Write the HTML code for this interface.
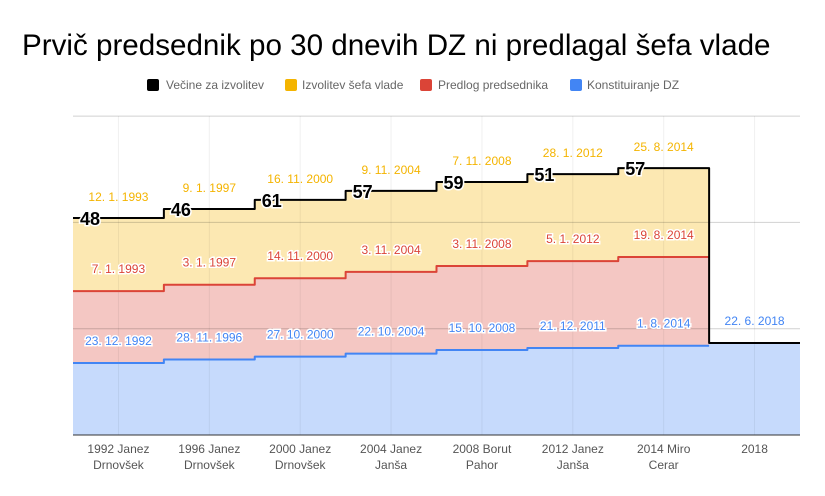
<!DOCTYPE html>
<html><head><meta charset="utf-8"><style>
body{margin:0;background:#fff;font-family:"Liberation Sans",sans-serif}
svg{display:block}
</style></head><body>
<svg id="c" width="825" height="496">
<text x="22" y="55" font-size="29.6" fill="#000">Prvič predsednik po 30 dnevih DZ ni predlagal šefa vlade</text>
<g font-size="12" fill="#666">
<g><rect x="147" y="79" width="12" height="12" rx="2" fill="#000"/><text x="166" y="89">Večine za izvolitev</text></g>
<g><rect x="285" y="79" width="12" height="12" rx="2" fill="#f4b400"/><text x="302" y="89">Izvolitev šefa vlade</text></g>
<g><rect x="420" y="79" width="12" height="12" rx="2" fill="#db4437"/><text x="438" y="89">Predlog predsednika</text></g>
<g><rect x="570" y="79" width="12" height="12" rx="2" fill="#4285f4"/><text x="587" y="89">Konstituiranje DZ</text></g>
</g>
<g id="plot"></g>
</svg>
<script>
const categories=[["1992 Janez","Drnovšek"],["1996 Janez","Drnovšek"],["2000 Janez","Drnovšek"],["2004 Janez","Janša"],["2008 Borut","Pahor"],["2012 Janez","Janša"],["2014 Miro","Cerar"],["2018",""]];
const blueVals=[67.7,71.0,73.7,76.5,80.0,81.8,84.0,86.5];
const redVals=[67.7,70.4,73.8,76.9,79.0,81.8,83.4,0];
const yellowVals=[68.7,71.2,73.7,76.2,79.0,81.8,83.7,0];
const majority=["48","46","61","57","59","51","57",""];
const yellowDates=["12. 1. 1993","9. 1. 1997","16. 11. 2000","9. 11. 2004","7. 11. 2008","28. 1. 2012","25. 8. 2014",""];
const redDates=["7. 1. 1993","3. 1. 1997","14. 11. 2000","3. 11. 2004","3. 11. 2008","5. 1. 2012","19. 8. 2014",""];
const blueDates=["23. 12. 1992","28. 11. 1996","27. 10. 2000","22. 10. 2004","15. 10. 2008","21. 12. 2011","1. 8. 2014","22. 6. 2018"];
const yTicks=[0,100,200,300];

const NS="http://www.w3.org/2000/svg";
const X0=73,X1=800,Y0=435,PX=1.063;
const n=categories.length,cw=(X1-X0)/n;
const xs=i=>X0+i*cw, xc=i=>X0+(i+0.5)*cw, y=v=>Y0-v*PX;
const g=document.getElementById('plot');
function mk(t,a,p){const e=document.createElementNS(NS,t);for(const k in a)e.setAttribute(k,a[k]);(p||g).appendChild(e);return e;}
const blueT=blueVals.map(v=>v), redT=blueVals.map((v,i)=>v+redVals[i]), totT=redT.map((v,i)=>v+yellowVals[i]);
function stepPts(top,cnt){let p=[];for(let i=0;i<cnt;i++){p.push([xs(i),y(top[i])],[xs(i+1),y(top[i])]);}return p;}
function area(top,bot,cnt,fill,name){const a=stepPts(top,cnt),b=stepPts(bot,cnt).reverse();
const e=mk('path',{d:'M'+a.concat(b).map(p=>p.join(',')).join('L')+'Z',fill:fill});

}
const zero=blueVals.map(()=>0);
area(totT,redT,7,'#fce8b2','area-izvolitev');
area(redT,blueT,7,'#f4c7c3','area-predlog');
area(blueT,zero,n,'#c6dafc','area-konstituiranje');
// grid over areas
yTicks.forEach(t=>{if(t===0)return;const l=mk('line',{x1:X0,x2:X1,y1:y(t),y2:y(t),stroke:'#000','stroke-opacity':0.18,'stroke-width':1});

});
categories.forEach((c,i)=>{const l=mk('line',{x1:xc(i),x2:xc(i),y1:116,y2:Y0,stroke:'#000','stroke-opacity':0.06});

});
function line(top,cnt,col,w,name){const p=stepPts(top,cnt);const e=mk('polyline',{points:p.map(q=>q.join(',')).join(' '),fill:'none',stroke:col,'stroke-width':w,'stroke-linejoin':'round'});

}
line(blueT,7,'#4285f4',2,'line-konstituiranje');
line(redT,7,'#db4437',2,'line-predlog');
line(totT,n,'#000',2,'line-vecine');
mk('line',{x1:X0,x2:X1,y1:Y0,y2:Y0,stroke:'#333','stroke-width':1});
function txt(x,yy,s,o){const e=mk('text',Object.assign({x:x,y:yy,'text-anchor':'middle','font-size':12},o));e.textContent=s;return e;}
categories.forEach((c,i)=>{
 let e=txt(xc(i),453,c[0],{fill:'#555'});
 
 
 e=txt(xc(i),469,c[1],{fill:'#555'});
 
 
 if(yellowDates[i]){e=txt(xc(i),y(totT[i])-17,yellowDates[i],{fill:'#f4b400'});
 
 }
 if(redDates[i]){e=txt(xc(i),y(redT[i])-18,redDates[i],{fill:'#db4437',stroke:'#fff','stroke-width':3,'paint-order':'stroke'});
 
 }
 if(blueDates[i]){const halo=i<7;e=txt(xc(i),y(blueT[i])-18,blueDates[i],halo?{fill:'#4285f4',stroke:'#fff','stroke-width':3,'paint-order':'stroke'}:{fill:'#4285f4'});
 
 }
 if(majority[i]){e=txt(xs(i)+17,y(totT[i])+7,majority[i],{fill:'#000','font-size':18,'font-weight':'bold',stroke:'#fff','stroke-width':3,'paint-order':'stroke'});
 
 }
});
</script>
</body></html>
